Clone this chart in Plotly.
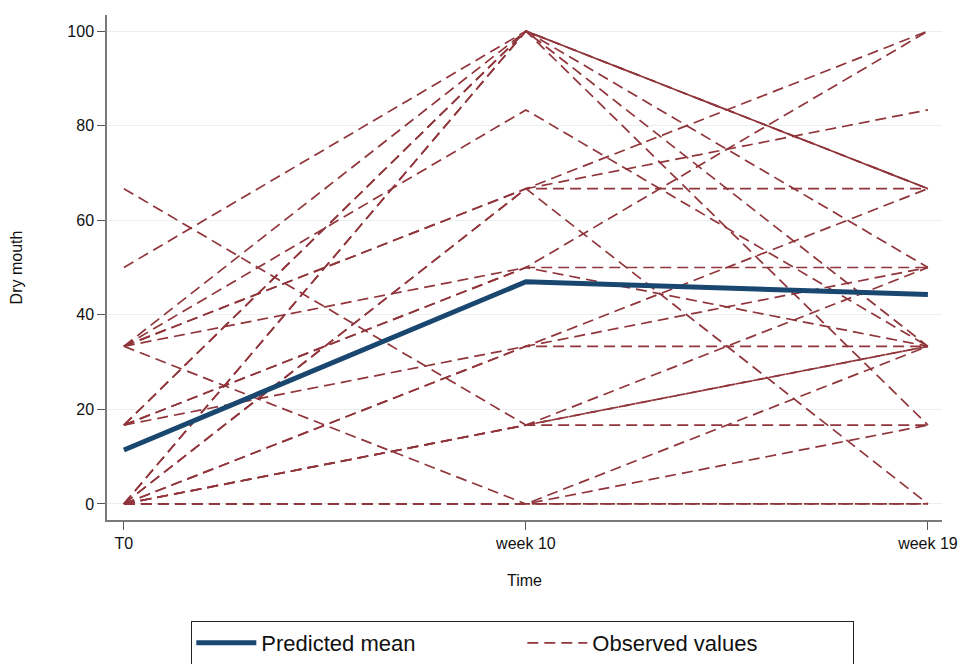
import plotly.graph_objects as go

time_labels = ["T0", "week 10", "week 19"]
time_pos = [0, 1, 2]

predicted_mean = [11.4, 47.0, 44.3]

# Observed values per subject (T0, week 10, week 19)
obs_t0 = [50, 0, 33.33, 16.67, 0, 33.33, 33.33, 0, 33.33, 0, 16.67, 33.33,
          16.67, 0, 16.67, 0, 0, 66.67, 0, 0, 33.33, 0, 0, 0, 16.67]
obs_w10 = [100, 100, 100, 100, 100, 83.33, 66.67, 66.67, 66.67, 66.67, 50, 50,
           50, 33.33, 33.33, 33.33, 16.67, 16.67, 16.67, 16.67, 0, 0, 0, 0, 100]
obs_w19 = [66.67, 66.67, 50, 16.67, 33.33, 33.33, 100, 83.33, 66.67, 0, 100, 50,
           33.33, 66.67, 50, 33.33, 50, 33.33, 33.33, 16.67, 0, 0, 33.33, 16.67, 66.67]

navy = "#1a476f"
maroon = "#90353b"

fig = go.Figure()

for i, (a, b, c) in enumerate(zip(obs_t0, obs_w10, obs_w19)):
    fig.add_trace(go.Scatter(
        x=time_pos, y=[a, b, c], mode="lines",
        line=dict(color=maroon, width=1.7, dash="11px,6px"),
        name="Observed values", legendgroup="obs",
        showlegend=(i == 0), legendrank=2, hoverinfo="skip"))

fig.add_trace(go.Scatter(
    x=time_pos, y=predicted_mean, mode="lines",
    line=dict(color=navy, width=5),
    name="Predicted mean", legendrank=1))

fig.update_layout(
    width=968, height=664,
    margin=dict(l=99, r=34, t=7, b=152),
    paper_bgcolor="white", plot_bgcolor="white",
    font=dict(family="Liberation Sans, Arial, sans-serif", size=16, color="#111111"),
    legend=dict(orientation="h", x=0.498, xanchor="center", y=-0.2, yanchor="top",
                bordercolor="#222222", borderwidth=1,
                font=dict(size=22, color="#111111"),
                entrywidth=256, itemwidth=60, tracegroupgap=0),
    xaxis=dict(range=[-0.042, 2.035], tickmode="array", tickvals=time_pos,
               ticktext=time_labels, showgrid=False, zeroline=False,
               showline=True, linecolor="#7a7a7a", linewidth=1.5,
               ticks="outside", ticklen=8, tickcolor="#555555", automargin=False,
               title=dict(text="Time", font=dict(size=16), standoff=24)),
    yaxis=dict(range=[-3.4, 103.4], tickvals=[0, 20, 40, 60, 80, 100],
               showgrid=True, gridcolor="#e8f0f2", gridwidth=1, zeroline=False,
               showline=True, linecolor="#7a7a7a", linewidth=1.5,
               ticks="outside", ticklen=8, tickcolor="#555555", automargin=False,
               title=dict(text="Dry mouth", font=dict(size=16), standoff=42)),
)

fig.write_html("out.html")
